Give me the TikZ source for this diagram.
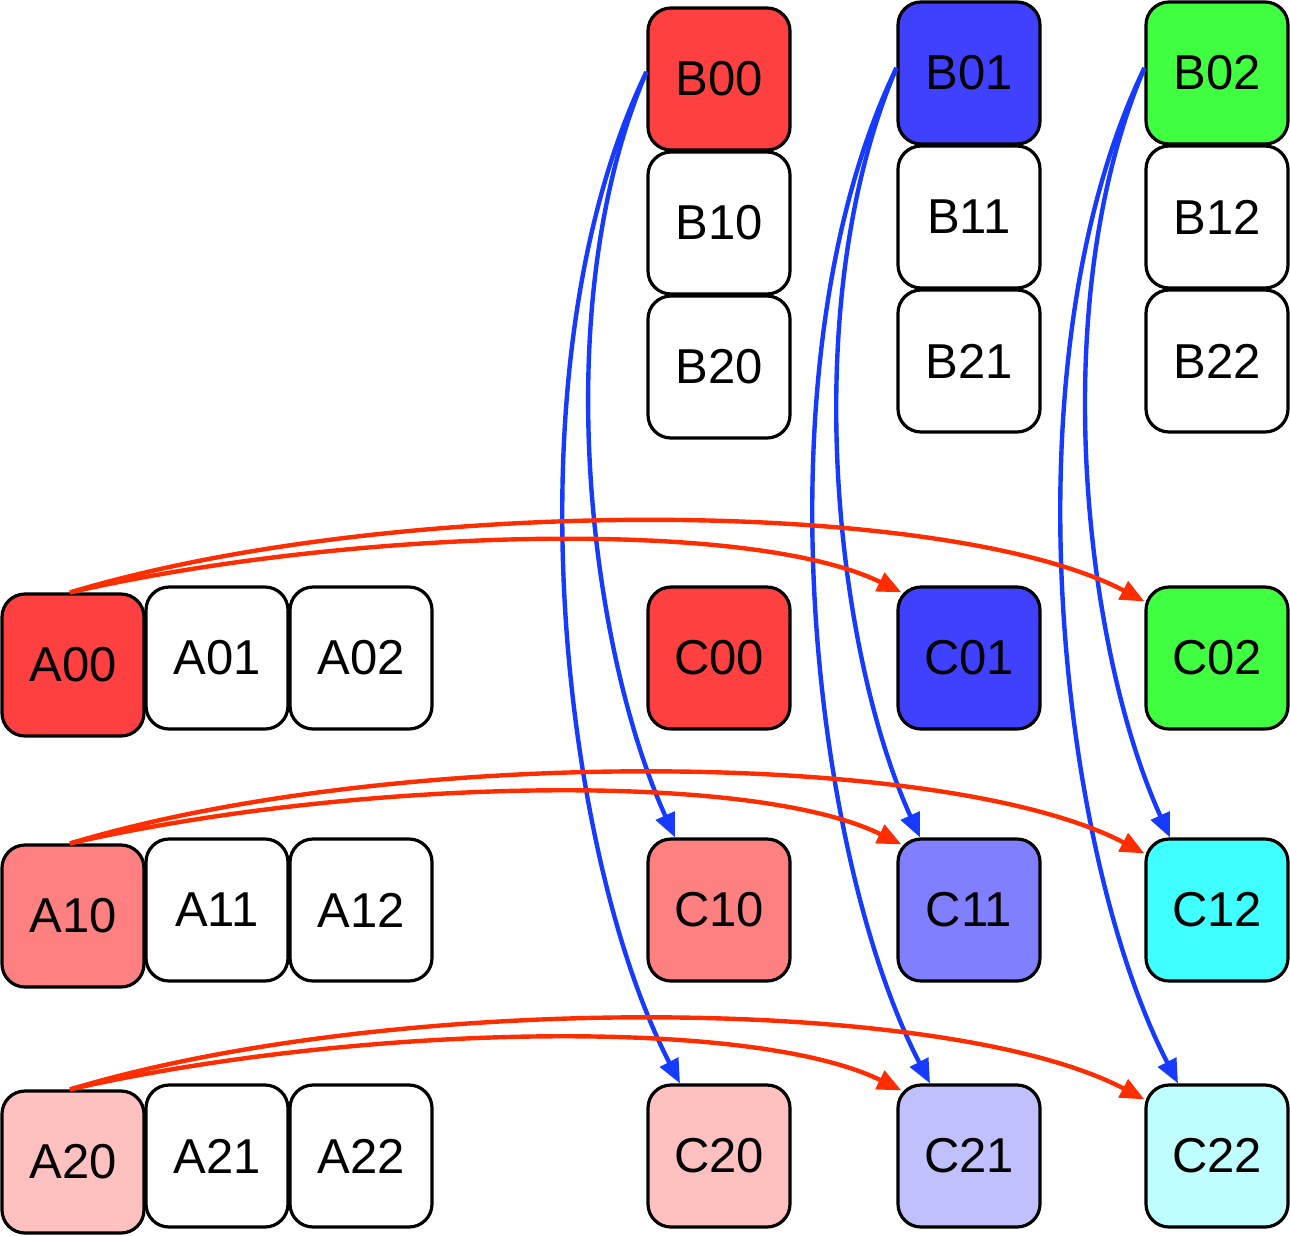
\documentclass[tikz,border=0pt]{standalone}
\usepackage{fontspec}
\setmainfont{Liberation Sans}
\usetikzlibrary{arrows.meta,calc}
\definecolor{cR1}{HTML}{FF4040}
\definecolor{cR2}{HTML}{FF8080}
\definecolor{cR3}{HTML}{FFC0C0}
\definecolor{cB1}{HTML}{4040FF}
\definecolor{cB2}{HTML}{8080FF}
\definecolor{cB3}{HTML}{C0C0FF}
\definecolor{cG1}{HTML}{40FF40}
\definecolor{cG2}{HTML}{40FFFF}
\definecolor{cG3}{HTML}{C0FFFF}
\definecolor{arrred}{RGB}{255,45,0}
\definecolor{arrblue}{RGB}{22,58,255}
\tikzset{
  cell/.style={draw, line width=3.2pt, rounded corners=23pt, minimum width=142pt,
    minimum height=142pt, inner sep=0pt, font=\fontsize{49}{49}\selectfont},
  bluearr/.style={draw=arrblue, line width=4.4pt, -{Triangle[length=24pt,width=20pt]}},
  redarr/.style={draw=arrred, line width=4.4pt, -{Triangle[length=24pt,width=20pt]}},
}
\begin{document}
\begin{tikzpicture}[x=1pt,y=-1pt]
\useasboundingbox (0,0) rectangle (1290,1235);
% B matrix
\node[cell,fill=cR1] (B00) at (719,79) {B00};
\node[cell] (B10) at (719,223) {B10};
\node[cell] (B20) at (719,367) {B20};
\node[cell,fill=cB1] (B01) at (969,73) {B01};
\node[cell] (B11) at (969,217) {B11};
\node[cell] (B21) at (969,361) {B21};
\node[cell,fill=cG1] (B02) at (1217,73) {B02};
\node[cell] (B12) at (1217,217) {B12};
\node[cell] (B22) at (1217,361) {B22};
% A matrix
\node[cell,fill=cR1] (A00) at (73,665) {A00};
\node[cell] (A01) at (217,658) {A01};
\node[cell] (A02) at (361,658) {A02};
\node[cell,fill=cR2] (A10) at (73,916) {A10};
\node[cell] (A11) at (217,910) {A11};
\node[cell] (A12) at (361,910) {A12};
\node[cell,fill=cR3] (A20) at (73,1162) {A20};
\node[cell] (A21) at (217,1156) {A21};
\node[cell] (A22) at (361,1156) {A22};
% C matrix
\node[cell,fill=cR1] (C00) at (719,658) {C00};
\node[cell,fill=cB1] (C01) at (969,658) {C01};
\node[cell,fill=cG1] (C02) at (1217,658) {C02};
\node[cell,fill=cR2] (C10) at (719,910) {C10};
\node[cell,fill=cB2] (C11) at (969,910) {C11};
\node[cell,fill=cG2] (C12) at (1217,910) {C12};
\node[cell,fill=cR3] (C20) at (719,1156) {C20};
\node[cell,fill=cB3] (C21) at (969,1156) {C21};
\node[cell,fill=cG3] (C22) at (1217,1156) {C22};
% blue arrows
\draw[bluearr] ($(B00.west)+(0,-7)$) .. controls +(-100,235) and +(-85,-188) .. ($(C10.north)+(-44,0)$);
\draw[bluearr] ($(B00.west)+(0,-7)$) .. controls +(-140,290) and +(-120,-233) .. ($(C20.north)+(-39,0)$);
\draw[bluearr] ($(B01.west)+(0,-5)$) .. controls +(-100,235) and +(-85,-188) .. ($(C11.north)+(-49,0)$);
\draw[bluearr] ($(B01.west)+(0,-5)$) .. controls +(-140,290) and +(-120,-233) .. ($(C21.north)+(-39,0)$);
\draw[bluearr] ($(B02.west)+(0,-5)$) .. controls +(-100,235) and +(-85,-188) .. ($(C12.north)+(-47,0)$);
\draw[bluearr] ($(B02.west)+(0,-5)$) .. controls +(-140,290) and +(-120,-233) .. ($(C22.north)+(-39,0)$);
% red arrows
\draw[redarr] ($(A00.north)+(-3,0)$) .. controls +(280,-64) and +(-153,-75) .. ($(C01.north west)+(5,7)$);
\draw[redarr] ($(A00.north)+(-3,0)$) .. controls +(330,-99) and +(-196,-103) .. ($(C02.north west)+(0,16)$);
\draw[redarr] ($(A10.north)+(-3,0)$) .. controls +(280,-64) and +(-153,-75) .. ($(C11.north west)+(5,7)$);
\draw[redarr] ($(A10.north)+(-3,0)$) .. controls +(330,-99) and +(-196,-103) .. ($(C12.north west)+(0,16)$);
\draw[redarr] ($(A20.north)+(-3,0)$) .. controls +(280,-64) and +(-153,-75) .. ($(C21.north west)+(5,7)$);
\draw[redarr] ($(A20.north)+(-3,0)$) .. controls +(330,-99) and +(-196,-103) .. ($(C22.north west)+(0,16)$);
\end{tikzpicture}
\end{document}
